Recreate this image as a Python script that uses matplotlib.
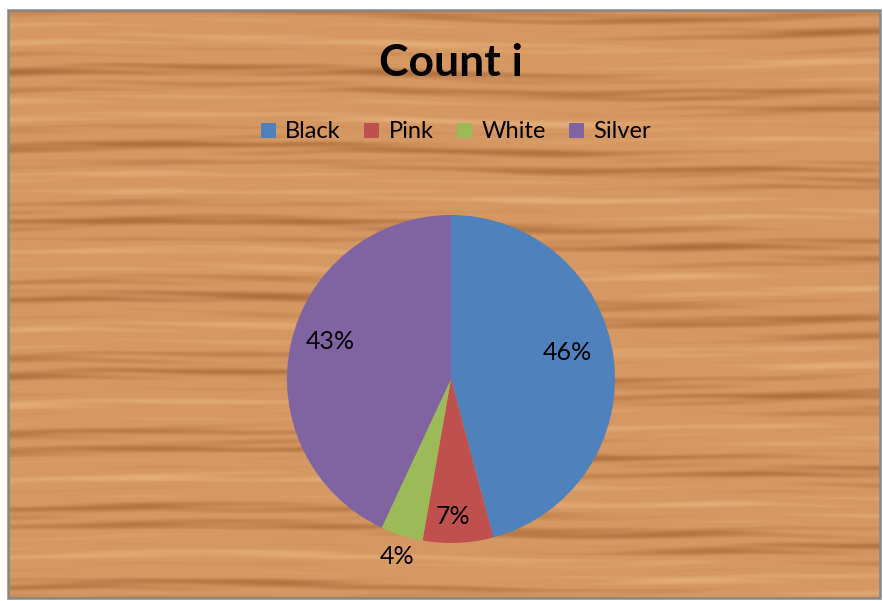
import matplotlib
matplotlib.use("Agg")
import matplotlib.pyplot as plt
import numpy as np
from matplotlib.patches import Rectangle

# data
CATEGORIES = ["Black", "Pink", "White", "Silver"]
COUNTS = [33, 5, 3, 31]
COLORS = ["#4F81BD", "#C0504D", "#9BBB59", "#8064A2"]
TITLE = "Count i"

# label placement: radial distance (fraction of radius), angular shift (deg)
LABEL_DIST = [0.73, 0.84, 1.13, 0.77]
LABEL_SHIFT = [5.5, -1.7, 0.6, -4.6]

W_PX, H_PX = 883, 601
FONT = "Lato"


def wood_texture(h, w):
    y = np.arange(h)[:, None].astype(float)
    x = np.arange(w)[None, :].astype(float)
    amp = 0.6 + 0.4 * np.sin(x * 0.009 + y * 0.02) * np.sin(x * 0.023 + 1.7)
    s = (0.45 * np.sin(y * 0.33 + 1.6 * np.sin(x * 0.008)) * amp
         + 0.35 * np.sin(y * 0.085 + 1.3 + 1.4 * np.sin(x * 0.004 + 1.0))
         + 0.25 * np.sin(y * 0.72 + 1.0 * np.sin(x * 0.019 + 0.4)) * (1 - amp))
    k = np.clip((s - 0.05) * 1.1, 0, 1) ** 1.3
    l2 = np.clip((-s - 0.3) * 1.5, 0, 1)
    base = np.array([214, 152, 98]) / 255
    dark = np.array([160, 98, 50]) / 255
    light = np.array([232, 180, 130]) / 255
    img = base * (1 - k[..., None]) + dark * k[..., None]
    img = img * (1 - l2[..., None]) + light * l2[..., None]
    return img


def main() -> None:
    fig = plt.figure(figsize=(W_PX / 100, H_PX / 100), dpi=100)
    fig.patch.set_facecolor("white")

    # chart area with wood background
    x0, y0, x1, y1 = 8, 10, 880, 598
    bg = fig.add_axes([x0 / W_PX, 1 - y1 / H_PX, (x1 - x0) / W_PX, (y1 - y0) / H_PX])
    bg.imshow(wood_texture(y1 - y0, x1 - x0), aspect="auto", interpolation="bilinear")
    bg.set_axis_off()
    fig.patches.append(Rectangle((x0 / W_PX, 1 - y1 / H_PX), (x1 - x0) / W_PX,
                                 (y1 - y0) / H_PX, transform=fig.transFigure,
                                 fill=False, edgecolor="#868686", linewidth=1.8))

    # pie
    cx, cy, r = 451, 379, 164
    ax = fig.add_axes([(cx - r) / W_PX, 1 - (cy + r) / H_PX, 2 * r / W_PX, 2 * r / H_PX])
    wedges, _ = ax.pie(COUNTS, colors=COLORS, startangle=90, counterclock=False,
                       radius=1.0, wedgeprops=dict(linewidth=0))
    ax.set_xlim(-1, 1)
    ax.set_ylim(-1, 1)
    ax.set_axis_off()

    total = sum(COUNTS)
    for w, c, d, sh in zip(wedges, COUNTS, LABEL_DIST, LABEL_SHIFT):
        ang = np.deg2rad((w.theta1 + w.theta2) / 2 + sh)
        ax.text(d * np.cos(ang), d * np.sin(ang), f"{c / total * 100:.0f}%",
                ha="center", va="center", fontsize=18, family=FONT, color="black")

    fig.text(451 / W_PX, 1 - 63 / H_PX, TITLE, ha="center", va="center",
             fontsize=32, fontweight="bold", family=FONT)

    fig.legend(wedges, CATEGORIES, loc="center", bbox_to_anchor=(456 / W_PX, 1 - 132 / H_PX),
               ncol=4, frameon=False, handlelength=0.62, handleheight=0.62,
               handletextpad=0.4, columnspacing=1.0, prop={"family": FONT, "size": 17})

    fig.savefig("out.png", dpi=100)
    plt.close(fig)


if __name__ == "__main__":
    main()
